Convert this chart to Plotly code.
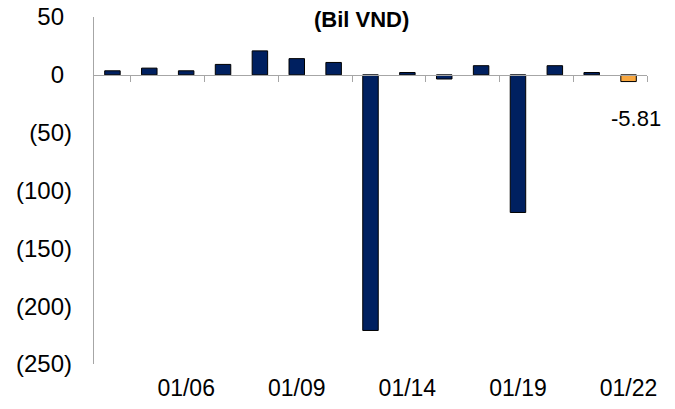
import plotly.graph_objects as go

dates = ["01/02", "01/05", "01/06", "01/07", "01/08", "01/09", "01/12", "01/13",
         "01/14", "01/15", "01/16", "01/19", "01/20", "01/21", "01/22"]
values = [3.5, 5.8, 3.5, 9.0, 20.7, 14.0, 10.7, -221.0,
          2.0, -3.6, 7.9, -119.0, 7.9, 2.0, -5.81]
tick_labels = ["01/06", "01/09", "01/14", "01/19", "01/22"]
y_ticks = [50, 0, -50, -100, -150, -200, -250]
title_text = "(Bil VND)"

NAVY = "#002060"
ORANGE = "#F9A73E"
GRAY = "#A6A6A6"
FONT = "Liberation Sans, Arial, sans-serif"

colors = [NAVY] * (len(values) - 1) + [ORANGE]


def fmt(v):
    if v < 0:
        return f"({abs(v):,.0f})"
    return f"{v:,.0f}<span style='color:rgba(0,0,0,0)'>)</span>"


fig = go.Figure()
fig.add_trace(go.Bar(
    x=dates, y=values, marker=dict(color=colors, line=dict(color="black", width=1)),
    width=0.42, showlegend=False, hoverinfo="x+y",
))
# axis carrying the tick marks on the zero line
fig.add_trace(go.Scatter(x=[0], y=[0], xaxis="x2", mode="markers",
                         marker=dict(opacity=0), showlegend=False, hoverinfo="skip"))

n = len(dates)
fig.update_layout(
    template="none",
    width=675, height=409,
    margin=dict(l=94, r=28, t=17, b=45, autoexpand=False),
    paper_bgcolor="white", plot_bgcolor="white",
    font=dict(family=FONT, color="black"),
    xaxis=dict(
        type="category", range=[-0.5, n - 0.5], automargin=False,
        tickmode="array", tickvals=tick_labels, ticktext=tick_labels,
        showline=False, showgrid=False, zeroline=False, ticks="",
        tickfont=dict(size=23, family=FONT), ticklabelstandoff=8,
    ),
    xaxis2=dict(
        overlaying="x", anchor="free", side="bottom", automargin=False,
        position=(0 - y_ticks[-1]) / (y_ticks[0] - y_ticks[-1]),
        range=[-0.5, n - 0.5], tickmode="array",
        tickvals=[i + 0.5 for i in range(0, n, 2)],
        showticklabels=False, ticks="outside", ticklen=6, tickcolor=GRAY, tickwidth=1.3,
        showline=True, linecolor=GRAY, linewidth=1.3, showgrid=False, zeroline=False,
    ),
    yaxis=dict(
        range=[y_ticks[-1], y_ticks[0]], tickmode="array", tickvals=y_ticks,
        ticktext=[fmt(v) for v in y_ticks], automargin=False, ticklabeloverflow="allow",
        showline=True, linecolor=GRAY, linewidth=1.3, showgrid=False, zeroline=False,
        ticks="", tickfont=dict(size=24, family=FONT), ticklabelstandoff=16,
    ),
    bargap=0.58,
)

fig.add_annotation(
    x=dates[-1], y=-38, text=f"{values[-1]:.2f}", showarrow=False,
    xshift=7, font=dict(size=22, family=FONT, color="black"),
)
fig.add_annotation(
    xref="paper", yref="paper", x=0.483, y=1.0, yanchor="middle", yshift=-2,
    text=f"<b>{title_text}</b>", showarrow=False,
    font=dict(size=22, family=FONT, color="black"),
)

fig.write_html("out.html", config={"displayModeBar": False},
               post_script="document.body.style.margin='0';")
